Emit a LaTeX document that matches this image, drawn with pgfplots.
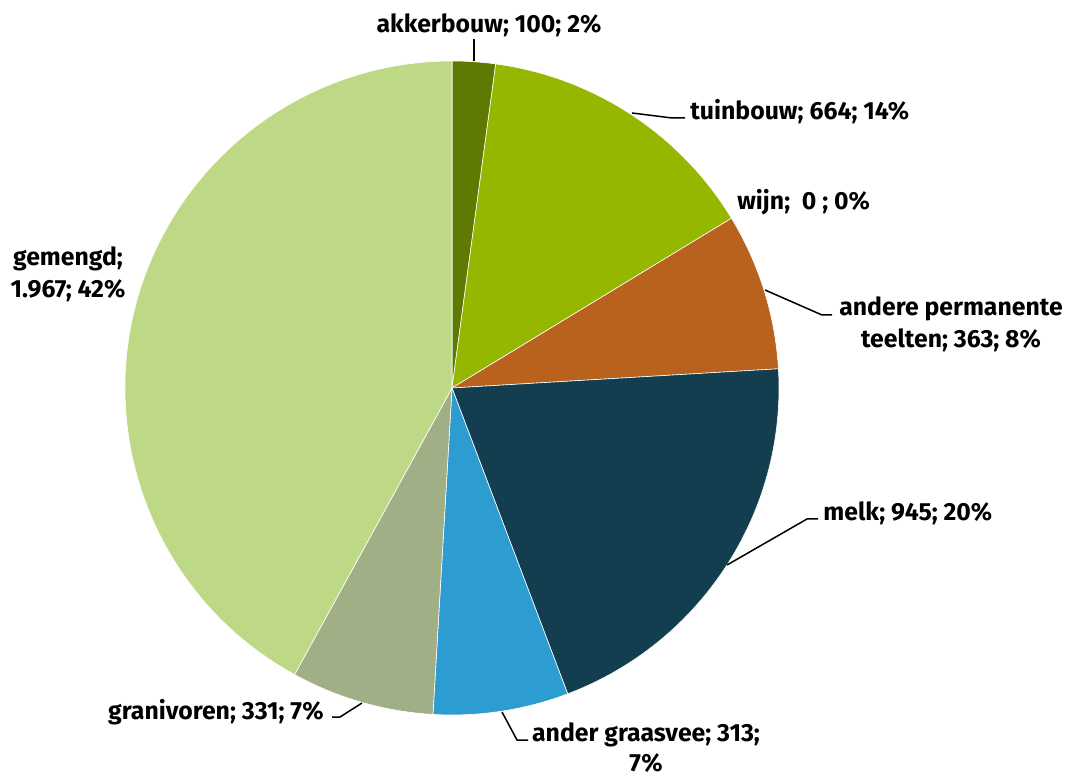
\documentclass[border=0pt]{standalone}
\usepackage{pgfplots}
\pgfplotsset{compat=1.18}
\usepackage{pgfplotstable}
\usepackage{fontspec}
\setmainfont{Fira Sans}
\definecolor{pie1}{HTML}{5E7A00}
\definecolor{pie2}{HTML}{95B700}
\definecolor{pie3}{HTML}{7F7F7F}
\definecolor{pie4}{HTML}{B8621E}
\definecolor{pie5}{HTML}{123E50}
\definecolor{pie6}{HTML}{2D9CD0}
\definecolor{pie7}{HTML}{A0AF85}
\definecolor{pie8}{HTML}{BED985}
\tikzset{lbl/.style={font=\fontsize{12.4}{16.2}\selectfont\bfseries, inner sep=0pt}}
% sector values: akkerbouw, tuinbouw, wijn, andere permanente teelten, melk, ander graasvee, granivoren, gemengd
\pgfplotstableread{
value
100
664
0
363
945
313
331
1967
}\piedata
\begin{document}
\begin{tikzpicture}
\pgfplotstablegetrowsof{\piedata}
\pgfmathtruncatemacro\nrows{\pgfplotsretval}
\def\total{0}
\pgfplotsforeachungrouped \r in {1,...,\nrows}{%
  \pgfmathtruncatemacro\rr{\r-1}%
  \pgfplotstablegetelem{\rr}{value}\of{\piedata}%
  \pgfmathsetmacro\tmp{\total+\pgfplotsretval}%
  \xdef\total{\tmp}}
\def\cum{0}
\pgfplotsforeachungrouped \r in {1,...,\nrows}{%
  \pgfmathtruncatemacro\rr{\r-1}%
  \pgfplotstablegetelem{\rr}{value}\of{\piedata}%
  \pgfmathsetmacro\s{90-(\cum/\total)*360}%
  \pgfmathsetmacro\tmp{\cum+\pgfplotsretval}%
  \pgfmathsetmacro\e{90-(\tmp/\total)*360}%
  \expandafter\xdef\csname sa\r\endcsname{\s}%
  \expandafter\xdef\csname ea\r\endcsname{\e}%
  \xdef\cum{\tmp}}
\begin{axis}[
  width=538pt, height=388pt, scale only axis,
  xmin=0, xmax=1076, ymin=0, ymax=776,
  hide axis, clip=false,
]
\coordinate (BL) at (rel axis cs:0,0);
\coordinate (TR) at (rel axis cs:1,1);
\pgfplotsinvokeforeach{1,2,4,5,6,7,8}{
  \fill[pie#1, draw=white, line width=0.3pt, line join=round]
    (axis cs:452,388) -- ++(\csname sa#1\endcsname:163.5pt)
    arc[start angle=\csname sa#1\endcsname, end angle=\csname ea#1\endcsname, radius=163.5pt] -- cycle;
}
% leader lines
\draw[line width=0.75pt] (axis cs:474,737) -- (axis cs:474,715);
\draw[line width=0.75pt] (axis cs:632,663) -- (axis cs:672,658) -- (axis cs:685,658);
\draw[line width=0.75pt] (axis cs:765,486) -- (axis cs:822,461) -- (axis cs:832,461);
\draw[line width=0.75pt] (axis cs:727,211) -- (axis cs:807,257) -- (axis cs:818,257);
\draw[line width=0.75pt] (axis cs:502,64) -- (axis cs:517,36) -- (axis cs:528,36);
\draw[line width=0.75pt] (axis cs:362,73) -- (axis cs:340,59) -- (axis cs:332,59);
% labels
\node[lbl] at (axis cs:489,751) {akkerbouw; 100; 2\%};
\node[lbl, anchor=west] at (axis cs:690,664) {tuinbouw; 664; 14\%};
\node[lbl, anchor=west] at (axis cs:737,574) {wijn;\ \ 0 ; 0\%};
\node[lbl, align=center] at (axis cs:951,452) {andere permanente\\teelten; 363; 8\%};
\node[lbl, anchor=west] at (axis cs:823,263) {melk; 945; 20\%};
\node[lbl, align=center, font=\fontsize{12.4}{15}\selectfont\bfseries] at (axis cs:646,28) {ander graasvee; 313;\\7\%};
\node[lbl, anchor=east] at (axis cs:324,64) {granivoren; 331; 7\%};
\node[lbl, align=center] at (axis cs:68,502) {gemengd;\\1.967; 42\%};
\end{axis}
\pgfresetboundingbox
\path (BL) rectangle (TR);
\end{tikzpicture}
\end{document}
